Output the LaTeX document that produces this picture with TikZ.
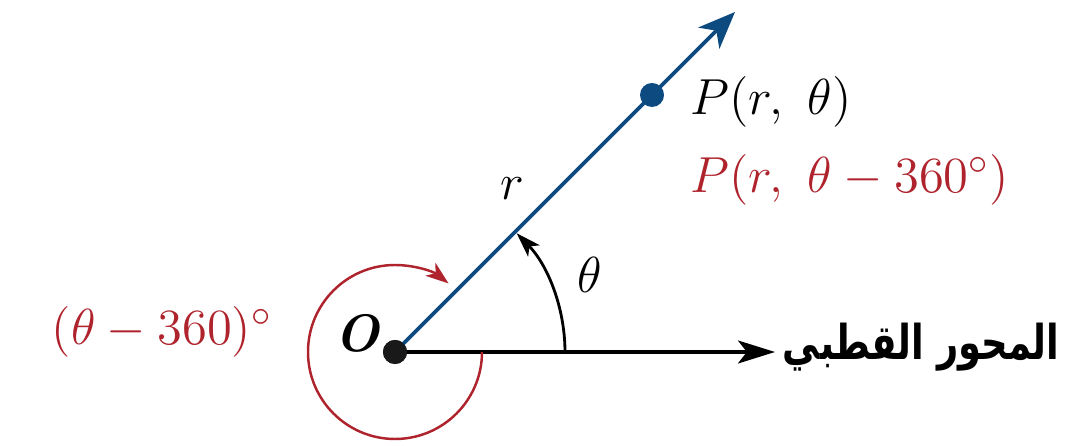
\documentclass[tikz,border=0pt]{standalone}
\usepackage{fontspec}
\usepackage{graphicx}
\usetikzlibrary{arrows.meta}
\newfontfamily\arabicfont[Script=Arabic]{DejaVu Sans}
\TeXXeTstate=1
\definecolor{rayblue}{RGB}{12,74,128}
\definecolor{angred}{RGB}{175,35,45}
\tikzset{
  lbl/.style={inner sep=0pt, font=\fontsize{15}{18}\selectfont},
  dotnode/.style={circle, inner sep=0pt, minimum size=0.24cm},
  axisline/.style={line width=1.1pt, black, -{Stealth[length=10.5pt, width=6.5pt, inset=2.5pt]}},
  rayline/.style={line width=1.1pt, rayblue, -{Stealth[length=10.5pt, width=8.5pt, inset=3pt]}},
  thetaarc/.style={line width=0.8pt, black, -{Stealth[length=7pt, width=4.6pt, inset=1.8pt]}},
  redarc/.style={line width=0.7pt, angred, -{Stealth[length=6.5pt, width=4.6pt, inset=1.8pt]}}
}
\begin{document}
\begin{tikzpicture}[x=0.01cm, y=0.01cm]
\useasboundingbox (-395,-94) rectangle (675,352);
% origin and ends
\node[dotnode, fill=black!90] (O) at (0,0) {};
\coordinate (axisend) at (380,0);
\coordinate (raytip) at (340,340);
% lines
\draw[rayline] (O.center) -- (raytip);
\draw[axisline] (O.center) -- (axisend);
\node[dotnode, fill=rayblue] (P) at (257,257) {};
\node[dotnode, fill=black!90] at (O) {};
% angle arcs
\draw[thetaarc] (170,0) arc[start angle=0, end angle=44.3, radius=170];
\draw[redarc] (87,0) arc[start angle=0, end angle=-308, radius=87];
% labels
\node[lbl, anchor=base east] (Olbl) at (-15,0) {\bfseries\itshape O};
\node[lbl, anchor=base] (rlbl) at (117,152) {$r$};
\node[lbl, anchor=base] (thlbl) at (195,59) {$\theta$};
\node[lbl, anchor=base west] (P1) at (295,237) {$P(r,\ \theta)$};
\node[lbl, anchor=base west, text=angred] (P2) at (295,159) {$P(r,\ \theta - 360^\circ)$};
\node[lbl, anchor=base east, text=angred] (neg) at (-122,7) {$(\theta - 360)^\circ$};
\node[inner sep=0pt, anchor=base east, font=\fontsize{10.5}{13}\selectfont] (axlbl) at (665,-8) {\scalebox{1}[1.3]{\arabicfont\bfseries\beginR المحور القطبي\endR}};
\end{tikzpicture}
\end{document}
